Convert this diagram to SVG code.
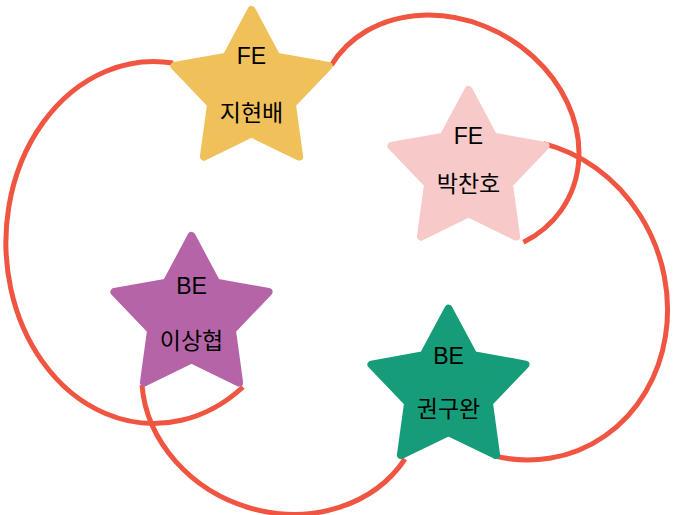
<svg xmlns="http://www.w3.org/2000/svg" width="697" height="515" viewBox="0 0 697 515">
<defs>
<style>
.edge{fill:none;stroke:#F05541;stroke-width:5;stroke-linecap:butt}
.star{stroke-width:8;stroke-linejoin:round}
.lbl{font-family:"Liberation Sans","Noto Sans CJK KR",sans-serif;font-size:23px;fill:#000;text-anchor:middle}
</style>
<path id="starShape" d="M0,-81 L24.98,-34.38 L77.04,-25.03 L40.42,13.13 L47.61,65.53 L0,42.5 L-47.61,65.53 L-40.42,13.13 L-77.04,-25.03 L-24.98,-34.38 Z"/>
</defs>
<rect width="697" height="515" fill="#fff"/>
<g id="connectors">
<path class="edge" d="M173,63 A148,181 0 1 0 243,387"/>
<path class="edge" d="M331.3,65.3 A136,114 30 1 1 523.4,242.3"/>
<path class="edge" d="M543.6,143.6 A162,147 70 1 1 493.8,455.8"/>
<path class="edge" d="M142,385 A143,126 20 0 0 405,459"/>
</g>
<g id="node-jihyunbae">
<use href="#starShape" class="star" transform="translate(251.5,91)" fill="#F0C05A" stroke="#F0C05A"/>
<text class="lbl" x="251.5" y="63.8">FE</text>
<text class="lbl" x="251.5" y="120.8">지현배</text>
</g>
<g id="node-parkchanho">
<use href="#starShape" class="star" transform="translate(468.5,171)" fill="#F7CAC9" stroke="#F7CAC9"/>
<text class="lbl" x="468.5" y="143.6">FE</text>
<text class="lbl" x="468.5" y="191.8">박찬호</text>
</g>
<g id="node-leesanghyup">
<use href="#starShape" class="star" transform="translate(191.5,317)" fill="#B565A7" stroke="#B565A7"/>
<text class="lbl" x="191.5" y="293.6">BE</text>
<text class="lbl" x="191.5" y="349.2">이상협</text>
</g>
<g id="node-kwonguwan">
<use href="#starShape" class="star" transform="translate(448.5,389.6)" fill="#179C7A" stroke="#179C7A"/>
<text class="lbl" x="448.5" y="364.3">BE</text>
<text class="lbl" x="448.5" y="416.8">권구완</text>
</g>
</svg>
